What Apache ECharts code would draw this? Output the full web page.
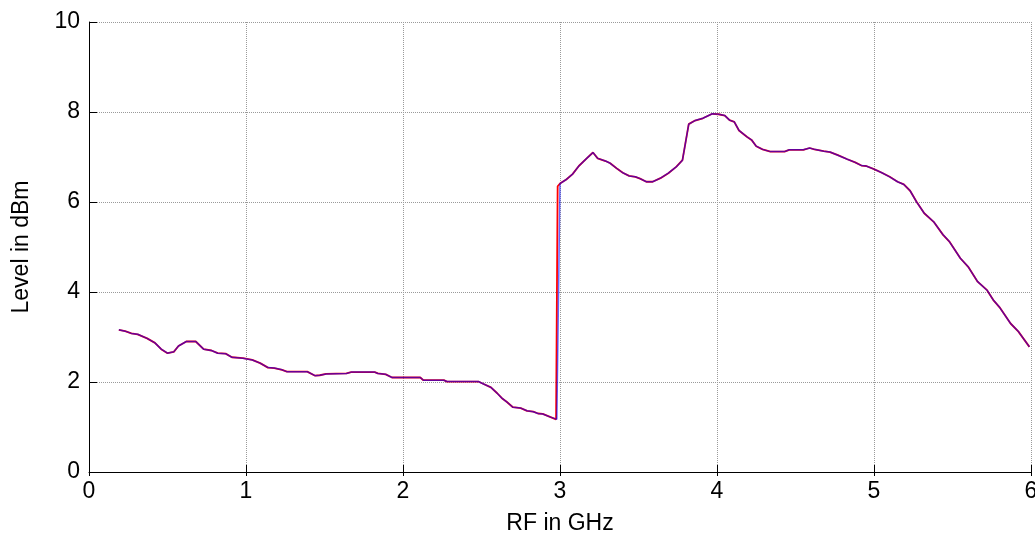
<!DOCTYPE html>
<html>
<head>
<meta charset="utf-8">
<script src="https://cdn.jsdelivr.net/npm/echarts@6/dist/echarts.min.js"></script>
<style>html,body{margin:0;padding:0;background:#fff}#c{width:1035px;height:538px}</style>
</head>
<body>
<div id="c"></div>
<script>
const rfGHz = [0.19,0.23,0.27,0.31,0.37,0.42,0.46,0.50,0.54,0.57,0.62,0.68,0.73,0.78,0.82,0.87,0.91,0.98,1.04,1.09,1.14,1.18,1.23,1.26,1.39,1.44,1.47,1.51,1.64,1.67,1.82,1.84,1.89,1.93,2.11,2.13,2.26,2.28,2.48,2.51,2.56,2.60,2.63,2.66,2.70,2.75,2.79,2.83,2.86,2.89,2.94,2.98,3.00,3.04,3.08,3.12,3.17,3.21,3.24,3.29,3.32,3.36,3.40,3.44,3.48,3.51,3.55,3.59,3.64,3.69,3.74,3.78,3.82,3.86,3.91,3.97,4.01,4.05,4.08,4.11,4.14,4.19,4.22,4.25,4.29,4.34,4.43,4.46,4.55,4.59,4.62,4.68,4.72,4.77,4.83,4.88,4.92,4.95,5.00,5.05,5.10,5.15,5.19,5.23,5.27,5.32,5.38,5.44,5.48,5.55,5.60,5.66,5.72,5.76,5.80,5.87,5.92,5.99];
const levelBlue = [3.16,3.13,3.08,3.06,2.97,2.87,2.73,2.64,2.67,2.80,2.90,2.90,2.73,2.70,2.64,2.63,2.55,2.53,2.49,2.42,2.32,2.31,2.27,2.23,2.23,2.14,2.15,2.18,2.19,2.22,2.22,2.19,2.17,2.10,2.10,2.04,2.04,2.01,2.01,1.96,1.88,1.75,1.64,1.56,1.44,1.42,1.36,1.34,1.30,1.29,1.22,1.17,6.41,6.50,6.62,6.80,6.97,7.10,6.97,6.91,6.86,6.75,6.65,6.58,6.56,6.52,6.45,6.45,6.53,6.64,6.78,6.93,7.73,7.81,7.86,7.96,7.95,7.92,7.82,7.78,7.59,7.45,7.38,7.24,7.17,7.12,7.12,7.16,7.16,7.20,7.17,7.13,7.11,7.04,6.95,6.88,6.81,6.80,6.73,6.65,6.56,6.45,6.39,6.25,6.01,5.75,5.56,5.27,5.12,4.75,4.56,4.23,4.04,3.82,3.66,3.30,3.12,2.78];
// red trace: same sweep, its step edge lands slightly earlier
const rfGHzRed = [2.975, 2.985];
const levelRedStep = [1.17, 6.35];
const xTicks = [0,1,2,3,4,5,6];
const yTicks = [0,2,4,6,8,10];

const blueData = rfGHz.map((x,i)=>[x, levelBlue[i]]);
const redData = [];
rfGHz.forEach((x,i)=>{
  if (x === 3.00) { rfGHzRed.forEach((rx,j)=>redData.push([rx, levelRedStep[j]])); }
  if (x !== 2.98) redData.push([x, levelBlue[i]]);
});

const font = "'Liberation Sans', Arial, sans-serif";
const chart = echarts.init(document.getElementById('c'), null, {renderer:'canvas'});
const gridLine = {show:true, lineStyle:{color:'#9a9a9a', type:[1,1], width:1}};
chart.setOption({
  animation:false,
  backgroundColor:'#fff',
  grid:{left:89, right:4, top:22, bottom:66, containLabel:false, outerBoundsMode:'none'},
  xAxis:[{
    type:'value', min:0, max:6, interval:1, position:'bottom',
    name:'RF in GHz', nameLocation:'middle', nameGap:40,
    nameTextStyle:{fontFamily:font, fontSize:23, color:'#000'},
    axisLine:{show:true, onZero:false, lineStyle:{color:'#000', width:1}},
    axisTick:{show:true, inside:true, length:7, lineStyle:{color:'#000'}},
    axisLabel:{fontFamily:font, fontSize:23, color:'#000', margin:8, formatter:v=>xTicks.includes(v)?String(v):''},
    splitLine:gridLine
  },{
    type:'value', min:0, max:6, interval:1, position:'top',
    axisLine:{show:false},
    axisTick:{show:true, inside:true, length:4, lineStyle:{color:'#000'}},
    axisLabel:{show:false}, splitLine:{show:false}
  }],
  yAxis:[{
    type:'value', min:0, max:10, interval:2, position:'left',
    name:'Level in dBm', nameLocation:'middle', nameGap:56,
    nameTextStyle:{fontFamily:font, fontSize:23, color:'#000'},
    axisLine:{show:true, onZero:false, lineStyle:{color:'#000', width:1}},
    axisTick:{show:true, inside:true, length:8, lineStyle:{color:'#000'}},
    axisLabel:{fontFamily:font, fontSize:23, color:'#000', margin:9, formatter:v=>yTicks.includes(v)?String(v):''},
    splitLine:gridLine
  },{
    type:'value', min:0, max:10, interval:2, position:'right',
    axisLine:{show:false},
    axisTick:{show:true, inside:false, length:5, lineStyle:{color:'#000'}},
    axisLabel:{show:false}, splitLine:{show:false}
  }],
  series:[
    {type:'line', data:redData, symbol:'none', smooth:false, lineStyle:{color:'#ff0000', width:1.8}, z:2},
    {type:'line', data:blueData, symbol:'none', smooth:false, lineStyle:{color:'#0000ff', width:1.5, opacity:0.6}, z:3}
  ]
});
</script>
</body>
</html>
